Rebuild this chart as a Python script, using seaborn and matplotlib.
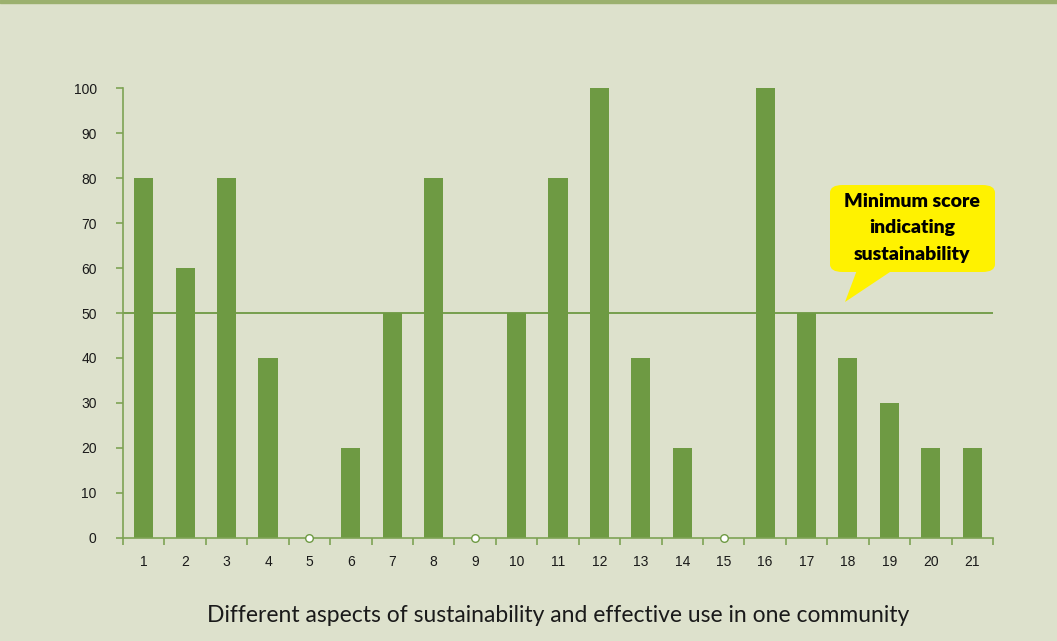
import numpy as np
import pandas as pd
import matplotlib.pyplot as plt
import seaborn as sns
from matplotlib.patches import FancyBboxPatch, Polygon

# chart data
aspects = [str(i) for i in range(1, 22)]
scores = [80, 60, 80, 40, 0, 20, 50, 80, 0, 50, 80, 100, 40, 20, 0, 100, 50, 40, 30, 20, 20]
threshold = 50
y_ticks = list(range(0, 101, 10))

df = pd.DataFrame({"aspect": aspects, "score": scores})

bg = "#dde1cc"
bar_green = "#6e9a43"
axis_green = "#7ea354"

sns.set_theme(style="white")
plt.rcParams["font.family"] = ["Liberation Sans", "DejaVu Sans"]

fig = plt.figure(figsize=(10.57, 6.41), dpi=100, facecolor=bg)
ax = fig.add_axes([0.1164, 0.1607, 0.8230, 0.7020])
ax.set_facecolor(bg)

sns.barplot(data=df, x="aspect", y="score", color=bar_green, saturation=1,
            width=0.46, ax=ax, errorbar=None, linewidth=0, edgecolor="none")

# zero-valued aspects shown as small open markers on the baseline
zeros = df[df["score"] == 0]
sns.scatterplot(data=zeros, x="aspect", y="score", ax=ax, marker="o", s=30,
                facecolor="white", edgecolor=bar_green, linewidth=1.0,
                zorder=5, clip_on=False, legend=False)

ax.axhline(threshold, color=bar_green, lw=1.3, zorder=1)

ax.set_ylim(0, 100)
ax.set_xlim(-0.5, len(aspects) - 0.5)
ax.set_yticks(y_ticks)
ax.set_xticks(range(len(aspects)))
ax.set_xticklabels(aspects)
ax.set_xticks(np.arange(-0.5, len(aspects), 1), minor=True)
ax.tick_params(axis="x", which="major", length=0, pad=12, labelsize=10, colors="#1a1a1a")
ax.tick_params(axis="x", which="minor", length=5, width=1.2, color=axis_green, bottom=True)
ax.tick_params(axis="y", length=5, width=1.2, color=axis_green, left=True,
               labelsize=10, colors="#1a1a1a", pad=14)

for side in ["top", "right"]:
    ax.spines[side].set_visible(False)
for side in ["left", "bottom"]:
    ax.spines[side].set_color(axis_green)
    ax.spines[side].set_linewidth(1.2)

ax.set_ylabel("")
ax.set_xlabel("Different aspects of sustainability and effective use in one community",
              fontsize=16.5, color="#1a1a1a", labelpad=26, family=["Lato", "DejaVu Sans"])

# top border strip
fig.patches.append(plt.Rectangle((0, 0.995), 1, 0.005, transform=fig.transFigure,
                                 color="#9bb06e", zorder=0))

# callout bubble
box = FancyBboxPatch((830 / 1057, 1 - 272 / 641), 165 / 1057, 87 / 641,
                     boxstyle="round,pad=0,rounding_size=0.012",
                     transform=fig.transFigure, facecolor="#fff200",
                     edgecolor="none", zorder=10)
fig.patches.append(box)
tail = Polygon([(857 / 1057, 1 - 270 / 641), (845 / 1057, 1 - 302 / 641),
                (893 / 1057, 1 - 270 / 641)], closed=True,
               transform=fig.transFigure, facecolor="#fff200", edgecolor="none", zorder=10)
fig.patches.append(tail)
fig.text(912 / 1057, 1 - 228 / 641, "Minimum score\nindicating\nsustainability",
         ha="center", va="center", fontsize=14, fontweight="heavy", color="black",
         linespacing=1.65, family=["Lato", "DejaVu Sans"], zorder=11)

fig.savefig("out.png", dpi=100, facecolor=bg)
